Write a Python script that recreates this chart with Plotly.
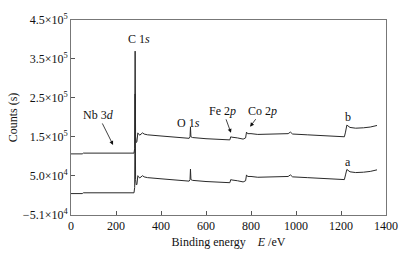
import plotly.graph_objects as go

# Spectrum b (upper)
energy_b = [0, 50, 55, 100, 150, 200, 250, 280, 283, 285, 287, 290, 293, 297, 300, 305, 310, 318, 325, 340,
            400, 450, 500, 525, 529, 531, 533, 540, 600, 650, 700, 706, 710, 715, 740, 765, 776, 780, 785,
            800, 830, 870, 900, 940, 965, 975, 985, 1050, 1100, 1150, 1200, 1215, 1220, 1226, 1240, 1265, 1300, 1330, 1360]
counts_b = [1.06e5, 1.06e5, 1.08e5, 1.08e5, 1.09e5, 1.09e5, 1.08e5, 1.08e5, 1.2e5, 3.7e5, 1.5e5, 1.35e5, 1.38e5, 1.6e5, 1.58e5, 1.54e5, 1.57e5, 1.6e5, 1.57e5, 1.55e5,
            1.52e5, 1.50e5, 1.47e5, 1.46e5, 1.50e5, 1.75e5, 1.50e5, 1.48e5, 1.45e5, 1.43e5, 1.41e5, 1.42e5, 1.50e5, 1.49e5, 1.47e5, 1.44e5, 1.47e5, 1.62e5, 1.58e5,
            1.58e5, 1.56e5, 1.57e5, 1.57e5, 1.58e5, 1.58e5, 1.62e5, 1.57e5, 1.55e5, 1.54e5, 1.52e5, 1.51e5, 1.50e5, 1.62e5, 1.80e5, 1.74e5, 1.72e5, 1.73e5, 1.75e5, 1.79e5]

# Spectrum a (lower)
energy_a = [0, 50, 55, 100, 150, 200, 250, 280, 283, 285, 287, 290, 293, 297, 300, 305, 310, 318, 325, 340,
            400, 450, 500, 525, 529, 531, 533, 540, 600, 650, 700, 706, 710, 715, 740, 765, 776, 780, 785,
            800, 830, 870, 900, 940, 965, 975, 985, 1050, 1100, 1150, 1200, 1215, 1220, 1226, 1240, 1265, 1300, 1330, 1360]
counts_a = [0.4e4, 0.4e4, 0.6e4, 0.6e4, 0.7e4, 0.7e4, 0.6e4, 0.6e4, 2.0e4, 2.6e5, 4.0e4, 2.6e4, 2.8e4, 5.0e4, 4.8e4, 4.4e4, 4.7e4, 5.0e4, 4.7e4, 4.5e4,
            4.2e4, 4.0e4, 3.7e4, 3.6e4, 4.0e4, 6.7e4, 4.0e4, 3.8e4, 3.5e4, 3.3e4, 3.1e4, 3.2e4, 4.0e4, 3.9e4, 3.7e4, 3.4e4, 3.7e4, 5.2e4, 4.8e4,
            4.8e4, 4.6e4, 4.7e4, 4.7e4, 4.8e4, 4.8e4, 5.2e4, 4.7e4, 4.5e4, 4.4e4, 4.2e4, 4.1e4, 4.0e4, 5.2e4, 6.6e4, 6.0e4, 5.8e4, 5.9e4, 6.1e4, 6.5e4]

y_tickvals = [-5.1e4, 5.0e4, 1.5e5, 2.5e5, 3.5e5, 4.5e5]
y_ticktext = ["\u22125.1\u00d710<sup>4</sup>", "5.0\u00d710<sup>4</sup>", "1.5\u00d710<sup>5</sup>",
              "2.5\u00d710<sup>5</sup>", "3.5\u00d710<sup>5</sup>", "4.5\u00d710<sup>5</sup>"]
x_tickvals = [0, 200, 400, 600, 800, 1000, 1200, 1400]

line_color = "#2a2a2a"
font_family = "Liberation Serif"

fig = go.Figure()
fig.add_trace(go.Scatter(x=energy_a, y=counts_a, mode="lines", line=dict(color=line_color, width=1), showlegend=False))
fig.add_trace(go.Scatter(x=energy_b, y=counts_b, mode="lines", line=dict(color=line_color, width=1), showlegend=False))

ann_font = dict(family=font_family, size=12, color="#111111")
annotations = [
    dict(x=300, y=4.02e5, text="C 1<i>s</i>", showarrow=False),
    dict(x=520, y=1.86e5, text="O 1<i>s</i>", showarrow=False),
    dict(x=187, y=1.29e5, text="Nb 3<i>d</i>", showarrow=True, ax=-15, ay=-30),
    dict(x=711, y=1.6e5, text="Fe 2<i>p</i>", showarrow=True, ax=-8, ay=-22),
    dict(x=796, y=1.76e5, text="Co 2<i>p</i>", showarrow=True, ax=12, ay=-16),
    dict(x=1231, y=2.02e5, text="b", showarrow=False),
    dict(x=1231, y=0.86e5, text="a", showarrow=False),
]
for a in annotations:
    a.update(xref="x", yref="y", font=ann_font)
    if a["showarrow"]:
        a.update(arrowhead=2, arrowsize=1, arrowwidth=0.8, arrowcolor="#111111", axref="pixel", ayref="pixel")
fig.update_layout(annotations=annotations)

fig.update_layout(
    width=410, height=259,
    margin=dict(l=70, r=24, t=13, b=37),
    paper_bgcolor="white", plot_bgcolor="white",
    font=dict(family=font_family, size=12, color="#111111"),
    xaxis=dict(range=[0, 1400], tickvals=x_tickvals, ticks="inside", ticklen=4, tickcolor="#555555",
               showline=True, linecolor="#777777", linewidth=1, mirror=True, showgrid=False, zeroline=False,
               title=dict(text="Binding energy&nbsp;&nbsp;&nbsp;&nbsp;<i>E</i> /eV", standoff=5, font=dict(size=12))),
    yaxis=dict(range=[-5.1e4, 4.5e5], tickvals=y_tickvals, ticktext=y_ticktext, ticks="inside", ticklen=4,
               tickcolor="#555555", showline=True, linecolor="#777777", linewidth=1, mirror=True,
               showgrid=False, zeroline=False,
               title=dict(text="Counts (s)", standoff=2, font=dict(size=12))),
)

fig.write_html("out.html", config={"displayModeBar": False},
               post_script="document.body.style.margin='0';")
